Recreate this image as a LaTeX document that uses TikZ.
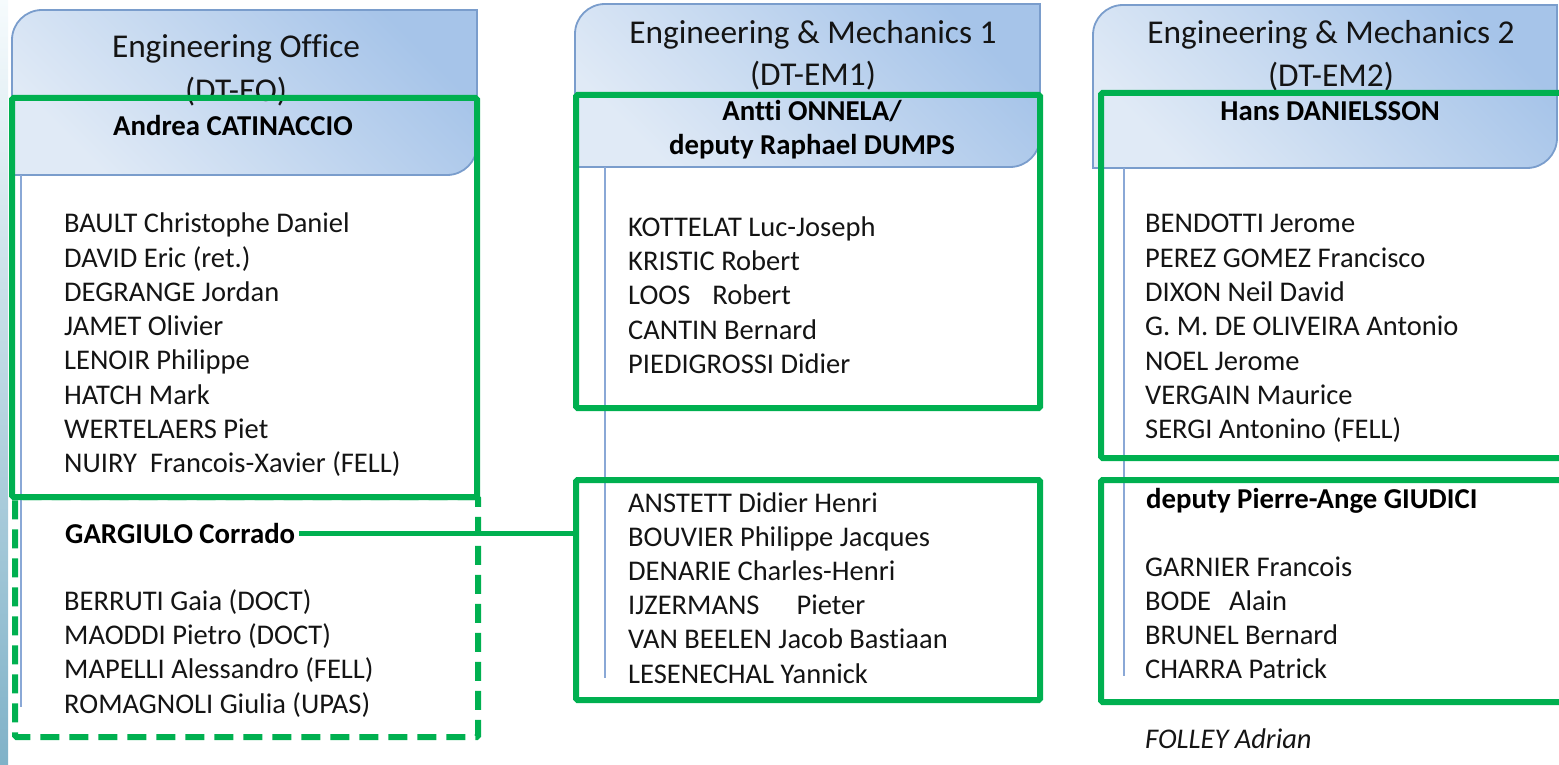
\documentclass[tikz,border=0pt]{standalone}
\usepackage{fontspec}
\setmainfont{Carlito}[Ligatures=NoCommon]
\usetikzlibrary{fit,calc}

\definecolor{boxgreen}{RGB}{0,176,80}
\definecolor{tabedge}{RGB}{122,157,204}
\definecolor{tablight}{RGB}{224,234,246}
\definecolor{tabdark}{RGB}{166,196,233}
\definecolor{stemblue}{RGB}{138,168,214}
\definecolor{edgetop}{RGB}{246,251,253}
\definecolor{edgemid}{RGB}{222,238,244}
\definecolor{edgebot}{RGB}{128,178,200}
\definecolor{inktext}{RGB}{20,20,20}

% tab with rounded top-left and bottom-right corners, drawn round node #1
\newcommand\tabshape[1]{%
  \path[tabfill] let \p1=(#1.south west), \p2=(#1.north east) in
    (\x1,\y1) -- ({\x1},{\y2-30pt})
    .. controls ({\x1},{\y2-13.4pt}) and ({\x1+13.4pt},{\y2}) .. ({\x1+30pt},{\y2})
    -- (\x2,\y2) -- ({\x2},{\y1+30pt})
    .. controls ({\x2},{\y1+13.4pt}) and ({\x2-13.4pt},{\y1}) .. ({\x2-30pt},{\y1})
    -- cycle;}

\tikzset{
  tabarea/.style={rectangle, inner sep=0pt, outer sep=0pt},
  tabfill/.style={draw=tabedge, line width=1.8pt, top color=tabdark, bottom color=tablight, shading angle=-45},
  htitle/.style={anchor=base, inner sep=0pt, text=inktext, font=\fontsize{33.3}{40}\selectfont},
  lead/.style={anchor=base, inner sep=0pt, text=black, font=\bfseries\fontsize{28.8}{34}\selectfont},
  leadleft/.style={anchor=base west, inner sep=0pt, text=black, font=\bfseries\fontsize{28.8}{34}\selectfont},
  member/.style={anchor=base west, inner sep=0pt, text=inktext, font=\fontsize{28.5}{34}\selectfont},
  gbox/.style={rectangle, draw=boxgreen, line width=6pt, inner sep=0pt, outer sep=0pt, rounded corners=1.5pt},
  gdash/.style={gbox, dash pattern=on 19pt off 10pt},
  stem/.style={draw=stemblue, line width=1.6pt},
  link/.style={draw=boxgreen, line width=5pt}
}

\begin{document}
\begin{tikzpicture}[x=1pt, y=-1pt]
\useasboundingbox (0,0) rectangle (1559,765);
\clip (0,0) rectangle (1559,765);

% soft blue band along the left edge
\shade[top color=edgetop, middle color=edgemid, bottom color=edgebot] (0,0) rectangle (8,765);

% department tabs
\node[tabarea, fit={(12,10) (477,175)}] (hEO) {};
\node[tabarea, fit={(575,4) (1040,167)}] (hEM1) {};
\node[tabarea, fit={(1093,5) (1557,168)}] (hEM2) {};
\tabshape{hEO}
\tabshape{hEM1}
\tabshape{hEM2}

\node[htitle] (tEOa) at (236,58) {Engineering Office};
\node[htitle] (tEOb) at (236,102) {(DT-EO)};
\node[htitle] (tEMa) at (813,44) {Engineering \& Mechanics 1};
\node[htitle] (tEMb) at (813,86) {(DT-EM1)};
\node[htitle] (tEMc) at (1331,44) {Engineering \& Mechanics 2};
\node[htitle] (tEMd) at (1331,87) {(DT-EM2)};

% stems hanging from each tab
\coordinate (eoStemEnd) at (21,707);
\coordinate (emaStemEnd) at (605,678);
\coordinate (embStemEnd) at (1124,676);
\draw[stem] (hEO.south -| eoStemEnd) -- (eoStemEnd);
\draw[stem] (hEM1.south -| emaStemEnd) -- (emaStemEnd);
\draw[stem] (hEM2.south -| embStemEnd) -- (embStemEnd);

% group frames
\node[gdash, fit={(15,497) (478,737)}] (eoGroupB) {};
\node[gbox, fit={(12,98) (477,497)}] (eoGroupA) {};
\node[gbox, fit={(576,95) (1040,408)}] (emaGroupA) {};
\node[gbox, fit={(576,480) (1040,700)}] (emaGroupB) {};
\node[gbox, fit={(1101,93) (1568,458)}] (embGroupA) {};
\node[gbox, fit={(1101,480) (1568,702)}] (embGroupB) {};

% group leaders
\node[lead] (lEO) at (233,136) {Andrea CATINACCIO};
\node[lead] (lEMa) at (812,121) {Antti ONNELA/};
\node[lead] (lEMb) at (812,155) {deputy Raphael DUMPS};
\node[lead] (lEMc) at (1330,121) {Hans DANIELSSON};
\node[leadleft, inner xsep=4pt] (gar) at (61,543) {GARGIULO Corrado};
\node[leadleft] (giu) at (1146,508) {deputy Pierre-Ange GIUDICI};

% members
\foreach \t [count=\i] in {BAULT Christophe Daniel, DAVID Eric (ret.), DEGRANGE Jordan,
    JAMET Olivier, LENOIR Philippe, HATCH Mark, WERTELAERS Piet,
    NUIRY\hspace{13pt}Francois-Xavier (FELL)}
  \node[member] (eoA\i) at (64,{233+34.2*(\i-1)}) {\t};

\foreach \t [count=\i] in {BERRUTI Gaia (DOCT), MAODDI Pietro (DOCT),
    MAPELLI Alessandro (FELL), ROMAGNOLI Giulia (UPAS)}
  \node[member] (eoB\i) at (64,{610+34.4*(\i-1)}) {\t};

\foreach \t [count=\i] in {KOTTELAT Luc-Joseph, KRISTIC Robert,
    LOOS\hspace{22pt}Robert, CANTIN Bernard, PIEDIGROSSI Didier}
  \node[member] (emaA\i) at (628,{236+34.4*(\i-1)}) {\t};

\foreach \t [count=\i] in {ANSTETT Didier Henri, BOUVIER Philippe Jacques,
    DENARIE Charles-Henri, IJZERMANS\hspace{37pt}Pieter,
    VAN BEELEN Jacob Bastiaan, LESENECHAL Yannick}
  \node[member] (emaB\i) at (628,{512+34.2*(\i-1)}) {\t};

\foreach \t [count=\i] in {BENDOTTI Jerome, PEREZ GOMEZ Francisco, DIXON Neil David,
    G. M. DE OLIVEIRA Antonio, NOEL Jerome, VERGAIN Maurice,
    SERGI Antonino\hspace{7pt}(FELL)}
  \node[member] (embA\i) at (1145,{233+34.3*(\i-1)}) {\t};

\foreach \t [count=\i] in {GARNIER Francois, BODE\hspace{18pt}Alain,
    BRUNEL Bernard, CHARRA Patrick}
  \node[member] (embB\i) at (1145,{576+34.2*(\i-1)}) {\t};

\node[member, font=\itshape\fontsize{28.5}{34}\selectfont] (fol) at (1145,748) {FOLLEY Adrian};

% Gargiulo also leads the second EM1 group
\draw[link] (gar.east) -- (gar.east -| emaGroupB.west);
\end{tikzpicture}
\end{document}
